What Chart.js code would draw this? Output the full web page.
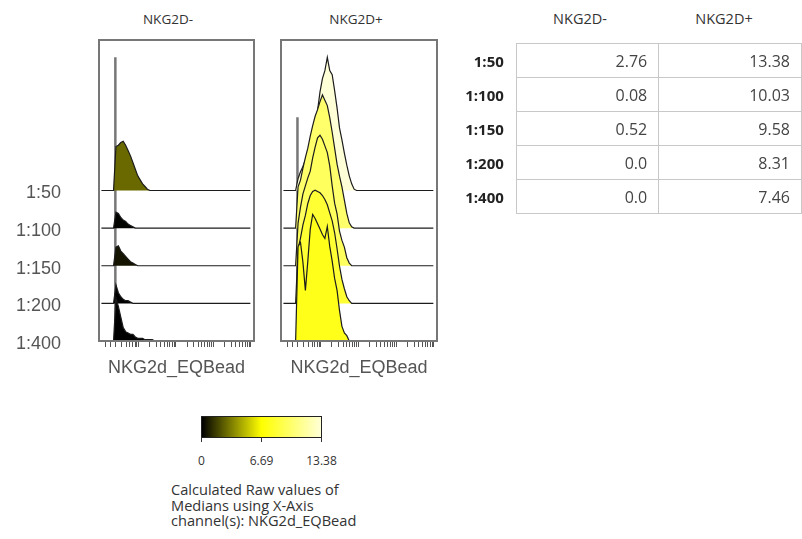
<!DOCTYPE html>
<html>
<head>
<meta charset="utf-8">
<script src="https://cdn.jsdelivr.net/npm/chart.js@4.4.1/dist/chart.umd.min.js"></script>
<style>
  body { margin: 0; background: #fff; }
  .wrap { position: relative; width: 802px; height: 539px; overflow: hidden; font-family: 'Open Sans', sans-serif; color: #333; }
  .wrap canvas { position: absolute; top: 0; }
  .head { position: absolute; top: 10px; line-height: 18px; font-size: 13.5px; transform: translateX(-50%); white-space: nowrap; color: #333; }
  .thead { font-size: 14.5px; }
  #medTable { position: absolute; left: 440px; top: 43px; border-collapse: collapse; table-layout: fixed; }
  #medTable td { height: 33px; padding: 0; font-size: 16px; color: #444; text-align: right; }
  #medTable td.lab { width: 65px; padding-right: 12px; border: none; font-weight: bold; font-size: 15px; color: #222; }
  #medTable td.val { width: 135px; padding-right: 11px; border: 1px solid #c8c8c8; }
  #cbar { position: absolute; left: 201px; top: 416px; width: 121px; height: 22px; border: 1px solid #222; box-sizing: border-box; }
  .ctick { position: absolute; top: 437px; width: 1px; height: 5px; background: #333; }
  .clab { position: absolute; top: 453px; line-height: 16px; font-size: 12px; transform: translateX(-50%); color: #333; }
  #caption { position: absolute; left: 171px; top: 482px; font-size: 14.6px; line-height: 15.5px; color: #333; white-space: nowrap; }
</style>
</head>
<body>
<div class="wrap" id="wrap">
  <div class="head" style="left:168px">NKG2D-</div>
  <div class="head" style="left:356px">NKG2D+</div>
  <canvas id="histNeg" width="262" height="390" style="left:0"></canvas>
  <canvas id="histPos" width="175" height="390" style="left:270px"></canvas>

  <div class="head thead" style="left:580px">NKG2D-</div>
  <div class="head thead" style="left:724px">NKG2D+</div>
  <table id="medTable"></table>

  <div id="cbar"></div>
  <div id="caption">Calculated Raw values of<br>Medians using X-Axis<br>channel(s): NKG2d_EQBead</div>
</div>

<script>
// dilutions, top row first
const rowLabels = ['1:50', '1:100', '1:150', '1:200', '1:400'];

// medians of NKG2d_EQBead per dilution
const medNeg = [2.76, 0.08, 0.52, 0.0, 0.0];
const medPos = [13.38, 10.03, 9.58, 8.31, 7.46];

// histogram counts (% of mode), bins of 16 channels starting at channel 96
const binStart = 96;
const binWidth = 16;
const histNeg = [
  [0, 33, 34, 36, 37, 34, 30, 26, 21, 16, 11, 8, 5, 3, 1, 0],
  [0, 12, 11, 8, 6, 5, 3, 2, 1, 0],
  [0, 14, 15, 11, 9, 7, 5, 3, 2, 1, 0],
  [0, 14, 8, 5, 3, 2, 2, 1, 0],
  [0, 32, 26, 18, 10, 7, 6, 5, 5, 3, 2, 2, 2, 1, 1, 1, 1, 0]
];
const histPos = [
  [0, 9, 14, 18, 23, 27, 32, 39, 47, 60, 74, 84, 90, 100, 90, 87, 75, 62, 47, 38, 28, 19, 11, 5, 1, 0],
  [0, 31, 36, 45, 53, 60, 69, 77, 84, 89, 95, 100, 96, 92, 83, 72, 60, 48, 39, 31, 21, 11, 4, 1, 0],
  [0, 32, 44, 54, 60, 66, 71, 81, 89, 96, 98, 95, 90, 85, 75, 60, 47, 39, 26, 19, 14, 6, 2, 0],
  [0, 41, 49, 59, 66, 75, 81, 84, 85, 84, 83, 81, 78, 74, 68, 62, 53, 41, 28, 18, 11, 5, 2, 0],
  [0, 71, 74, 59, 38, 60, 84, 95, 92, 88, 84, 80, 77, 86, 71, 60, 47, 38, 23, 11, 6, 4, 0]
];

// events piled at zero in the 1:50 sample (% of mode)
const zeroPile = [100, 55];

// display scale ticks (channels)
const zeroTicks = [44, 76, 108, 150, 180, 204, 222, 238, 250];
const decades = [259, 507, 755, 1003];

const zeroChannel = 108;
const modeHeight = 3.54;   // row spacing = 1
const scaleMax = Math.max(...medNeg, ...medPos);

function heatColor(v) {
  const t = v / scaleMax;
  if (t <= 0.5) {
    const k = Math.round(t * 2 * 255);
    return `rgb(${k},${k},0)`;
  }
  const b = Math.round((t - 0.5) * 2 * 215);
  return `rgb(255,255,${b})`;
}

let xTicks = zeroTicks.slice();
decades.forEach((d, i) => {
  xTicks.push(d);
  if (i < decades.length - 1) {
    for (let k = 2; k <= 9; k++) xTicks.push(d + 248 * Math.log10(k));
  }
});

const framePlugin = {
  id: 'frame',
  afterDraw(chart) {
    const { ctx, chartArea: a } = chart;
    ctx.save();
    ctx.strokeStyle = '#777';
    ctx.lineWidth = 2;
    ctx.strokeRect(a.left, a.top, a.right - a.left, a.bottom - a.top);
    ctx.restore();
  }
};

function ridgeChart(id, hists, medians, pile, showRows, padding) {
  const top = rowLabels.length - 1;
  const datasets = hists.map((h, i) => {
    const base = top - i;
    const pts = [{ x: 16, y: base }];
    h.forEach((v, j) => pts.push({ x: binStart + j * binWidth, y: base + v / 100 * modeHeight }));
    pts.push({ x: 1000, y: base });
    return {
      data: pts,
      order: base,
      fill: { value: base },
      backgroundColor: heatColor(medians[i]),
      borderColor: '#1c1c1c',
      borderWidth: 1.2,
      pointRadius: 0,
      tension: 0
    };
  });
  datasets.push({
    data: [{ x: zeroChannel, y: 0 }, { x: zeroChannel, y: top + pile / 100 * modeHeight }],
    order: 99,
    borderColor: '#777',
    borderWidth: 2.5,
    pointRadius: 0,
    fill: false
  });

  return new Chart(document.getElementById(id), {
    type: 'line',
    data: { datasets: datasets },
    plugins: [framePlugin],
    options: {
      responsive: false,
      animation: false,
      events: [],
      layout: { padding: padding },
      plugins: {
        legend: { display: false },
        tooltip: { enabled: false }
      },
      scales: {
        x: {
          type: 'linear',
          min: 0,
          max: 1024,
          afterBuildTicks: axis => { axis.ticks = xTicks.map(v => ({ value: v })); },
          afterFit: s => { s.height = 49; },
          ticks: { display: false },
          border: { display: false },
          grid: { drawOnChartArea: false, drawTicks: true, tickLength: 6, tickColor: '#555', tickWidth: 1 },
          title: {
            display: true,
            text: 'NKG2d_EQBead',
            color: '#555',
            font: { family: 'Liberation Sans', size: 18 },
            padding: { top: 0, bottom: 11 }
          }
        },
        y: {
          type: 'linear',
          min: 0,
          max: 8,
          display: showRows,
          afterBuildTicks: axis => { axis.ticks = rowLabels.map((_, i) => ({ value: i })); },
          afterFit: s => {
            s.width = showRows ? 99 : 0;
            s.paddingTop = 0;
            s.paddingBottom = 0;
          },
          ticks: {
            callback: v => rowLabels[top - v],
            color: '#555',
            font: { family: 'Liberation Sans', size: 18 },
            padding: 30,
            labelOffset: 3
          },
          border: { display: false },
          grid: { display: false }
        }
      }
    }
  });
}

ridgeChart('histNeg', histNeg, medNeg, zeroPile[0], true, { top: 40, right: 8, left: 0, bottom: 0 });
ridgeChart('histPos', histPos, medPos, zeroPile[1], false, { top: 40, right: 8, left: 11, bottom: 0 });

// median table
const fmt = v => (v === 0 ? '0.0' : v.toFixed(2));
const table = document.getElementById('medTable');
rowLabels.forEach((lab, i) => {
  const tr = document.createElement('tr');
  tr.innerHTML = `<td class="lab">${lab}</td><td class="val">${fmt(medNeg[i])}</td><td class="val">${fmt(medPos[i])}</td>`;
  table.appendChild(tr);
});

// colour scale legend
const bar = document.getElementById('cbar');
const stops = [0, scaleMax / 2, scaleMax];
bar.style.background = `linear-gradient(to right, ${stops.map(heatColor).join(', ')})`;
const wrap = document.getElementById('wrap');
stops.forEach((v, i) => {
  const x = 201 + i * 60;
  const t = document.createElement('div');
  t.className = 'ctick';
  t.style.left = x + 'px';
  wrap.appendChild(t);
  const l = document.createElement('div');
  l.className = 'clab';
  l.style.left = (x + 0.5) + 'px';
  l.textContent = v === 0 ? '0' : v.toFixed(2);
  wrap.appendChild(l);
});
</script>
</body>
</html>
